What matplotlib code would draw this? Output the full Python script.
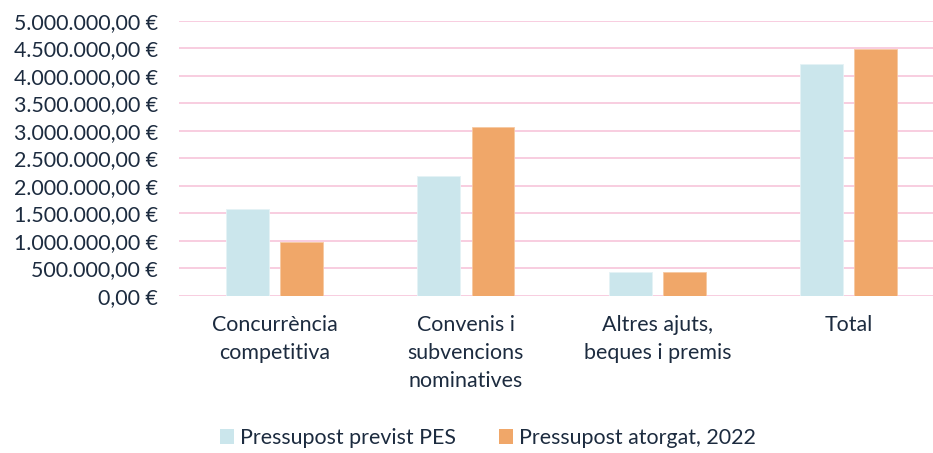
import matplotlib
matplotlib.use('Agg')
import matplotlib.pyplot as plt
from matplotlib.patches import Patch
from matplotlib.ticker import FuncFormatter, MultipleLocator
import numpy as np

# data
categories = ['Concurrència\ncompetitiva', 'Convenis i\nsubvencions\nnominatives',
              'Altres ajuts,\nbeques i premis', 'Total']
previst = [1578000, 2178000, 425000, 4211000]
atorgat = [971000, 3070000, 425000, 4496000]
series_names = ['Pressupost previst PES', 'Pressupost atorgat, 2022']

blue = '#CBE6EC'
orange = '#F0A769'
grid_col = '#F8CDE0'
text_col = '#1C2B3F'

plt.rcParams['font.family'] = ['Lato', 'DejaVu Sans']


def euro(v, pos=None):
    s = f'{v:,.2f}'
    s = s.replace(',', 'X').replace('.', ',').replace('X', '.')
    return s + ' €'


fig = plt.figure(figsize=(9.33, 4.53), dpi=100)
ax = fig.add_axes([0.1917, 0.3472, 0.8083, 0.6064])

x = np.arange(len(categories))
w = 0.2236
off = 0.1416
ax.bar(x - off, previst, w, color=blue, edgecolor='#E4F2F5', linewidth=0.6, zorder=3)
ax.bar(x + off, atorgat, w, color=orange, edgecolor='#F6C9A2', linewidth=0.6, zorder=3)

ax.set_ylim(0, 5000000)
ax.set_xlim(-0.5, 3.44)
ax.yaxis.set_major_locator(MultipleLocator(500000))
ax.yaxis.set_major_formatter(FuncFormatter(euro))
ax.grid(axis='y', color=grid_col, linewidth=1.4, zorder=0)
for side in ax.spines.values():
    side.set_visible(False)

fs = 15.4
ax.set_xticks(x)
ax.set_xticklabels(categories, linespacing=1.5)
ax.tick_params(axis='y', length=0, pad=15, labelsize=fs, labelcolor=text_col)
ax.tick_params(axis='x', length=0, pad=14, labelsize=fs, labelcolor=text_col)

handles = [Patch(facecolor=blue, edgecolor='none'), Patch(facecolor=orange, edgecolor='none')]
fig.legend(handles, series_names, loc='center', bbox_to_anchor=(0.523, 0.033), ncol=2,
           frameon=False, fontsize=fs, labelcolor=text_col, handlelength=0.65,
           handleheight=0.65, handletextpad=0.3, columnspacing=2.0)

fig.savefig('out.png', dpi=100)
plt.close()
